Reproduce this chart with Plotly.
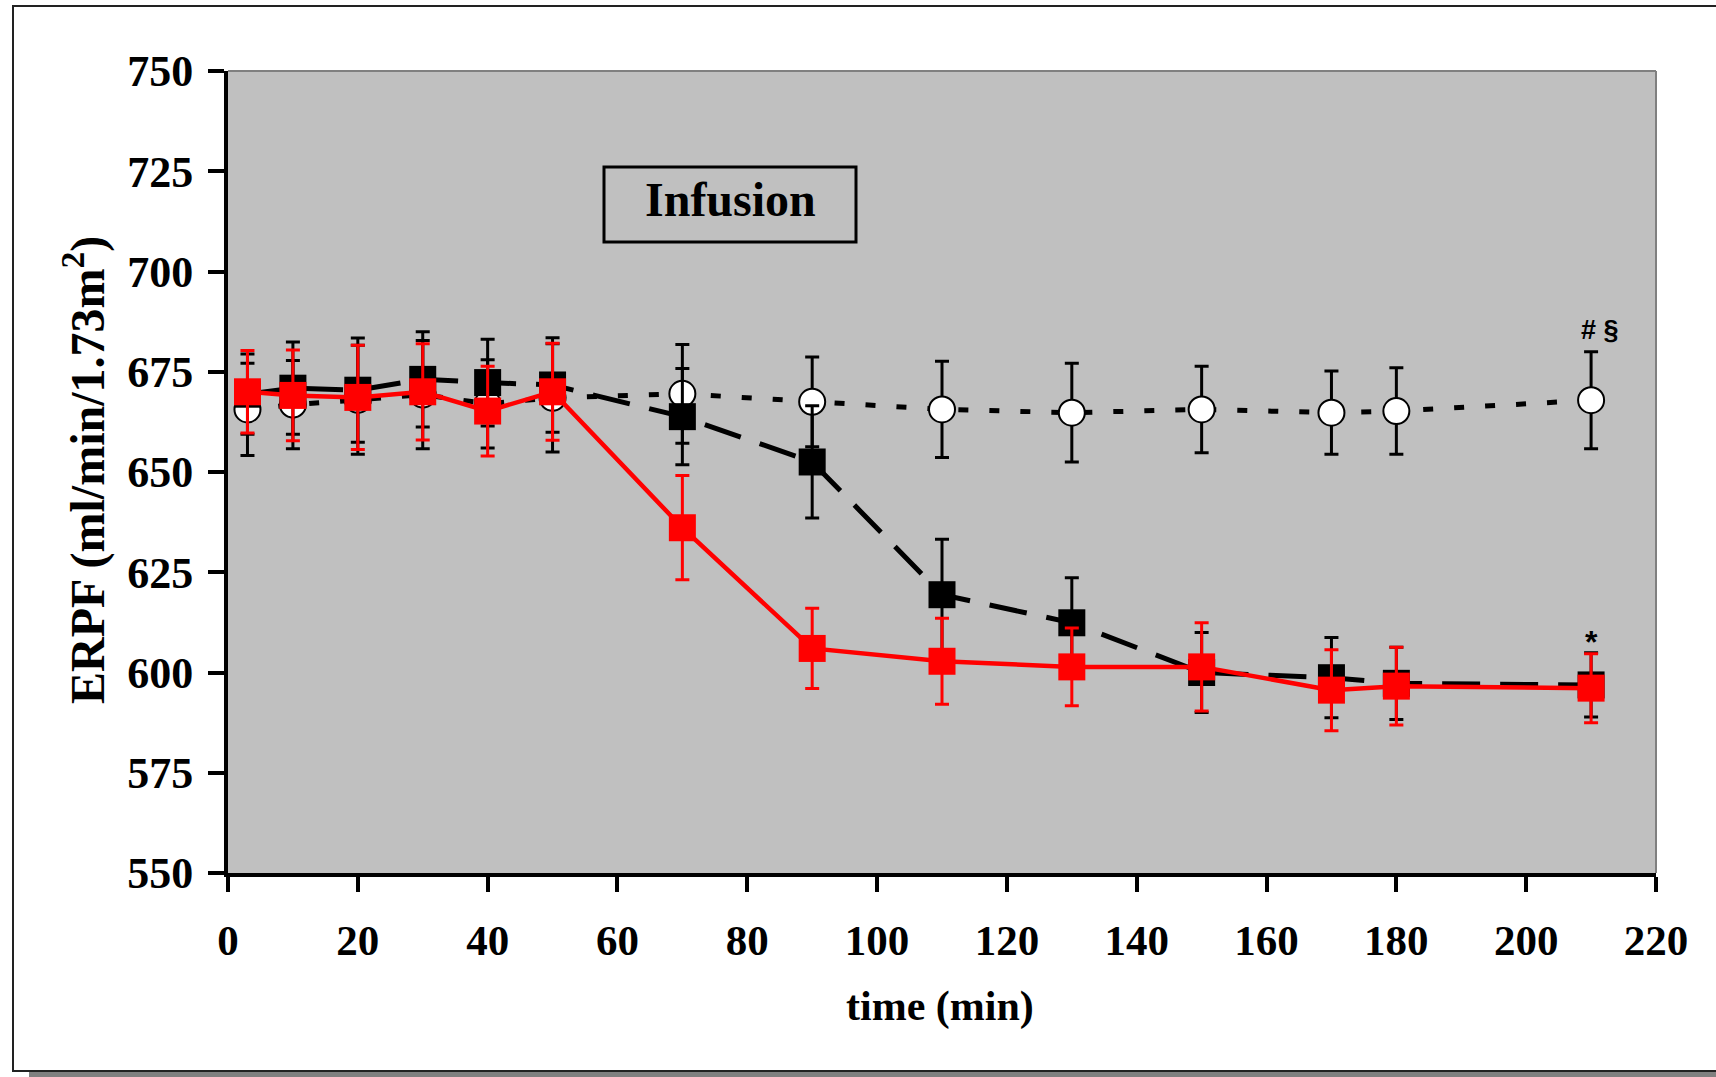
import plotly.graph_objects as go

time_min = [3, 10, 20, 30, 40, 50, 70, 90, 110, 130, 150, 170, 180, 210]

control_mean = [665.6, 666.8, 668.0, 669.3, 667.0, 668.5, 669.5, 667.5, 665.6, 664.8, 665.6, 664.8, 665.2, 667.9]
control_sem = [11.5, 11.0, 13.6, 13.5, 11.0, 13.5, 12.3, 11.2, 12.0, 12.3, 10.8, 10.4, 10.8, 12.1]

black_mean = [669.4, 670.9, 670.4, 673.1, 672.3, 671.7, 663.8, 652.5, 619.4, 612.4, 600.0, 598.7, 597.3, 596.9]
black_sem = [10.0, 11.5, 13.0, 11.9, 10.8, 11.8, 12.0, 14.0, 13.8, 11.2, 10.0, 10.0, 9.0, 8.0]

red_mean = [670.0, 669.1, 668.6, 670.0, 665.2, 670.0, 636.1, 606.0, 602.8, 601.4, 601.4, 595.6, 596.6, 596.1]
red_sem = [10.3, 11.3, 13.0, 12.0, 11.2, 12.1, 13.0, 10.0, 10.7, 9.7, 11.0, 10.1, 9.7, 8.6]

x_ticks = list(range(0, 221, 20))
y_ticks = list(range(550, 751, 25))

SERIF = "Liberation Serif"
SANS = "Liberation Sans"

fig = go.Figure()

fig.add_trace(go.Scatter(
    x=time_min, y=control_mean, mode="lines+markers",
    line=dict(color="black", width=5, dash="10px,21px"),
    marker=dict(symbol="circle", size=26, color="white", line=dict(color="black", width=2)),
    error_y=dict(type="data", array=control_sem, visible=True, color="black", thickness=3, width=7),
    showlegend=False, hoverinfo="skip",
))

fig.add_trace(go.Scatter(
    x=time_min, y=black_mean, mode="lines+markers",
    line=dict(color="black", width=5, dash="38px,20px"),
    marker=dict(symbol="square", size=27, color="black", line=dict(width=0)),
    error_y=dict(type="data", array=black_sem, visible=True, color="black", thickness=3, width=7),
    showlegend=False, hoverinfo="skip",
))

fig.add_trace(go.Scatter(
    x=time_min, y=red_mean, mode="lines+markers",
    line=dict(color="#FF0000", width=4.5),
    marker=dict(symbol="square", size=27, color="#FF0000", line=dict(width=0)),
    error_y=dict(type="data", array=red_sem, visible=True, color="#FF0000", thickness=3, width=7),
    showlegend=False, hoverinfo="skip",
))

PW, PH = 1428.0, 802.0
L, T = 228.0, 71.0


def px_x(px):
    return (px - L) / PW


def px_y(py):
    return (T + PH - py) / PH


shapes = [
    dict(type="rect", xref="paper", yref="paper", x0=px_x(29), x1=px_x(1740), y0=px_y(1078), y1=px_y(1071),
         fillcolor="#808080", line=dict(width=0), layer="below"),
    dict(type="rect", xref="paper", yref="paper", x0=px_x(13), x1=px_x(1740), y0=px_y(1071), y1=px_y(6),
         fillcolor="rgba(0,0,0,0)", line=dict(color="#222222", width=2), layer="below"),
    dict(type="line", xref="paper", yref="paper", x0=0, x1=1, y0=1, y1=1,
         line=dict(color="#808080", width=2), layer="below"),
    dict(type="line", xref="paper", yref="paper", x0=1, x1=1, y0=0, y1=1,
         line=dict(color="#808080", width=2), layer="below"),
    dict(type="rect", xref="paper", yref="paper", x0=px_x(604), x1=px_x(856), y0=px_y(242), y1=px_y(167),
         fillcolor="rgba(0,0,0,0)", line=dict(color="black", width=3), layer="above"),
]

annotations = [
    dict(text="Infusion", xref="paper", yref="paper", x=px_x(730), y=px_y(199), showarrow=False,
         xanchor="center", yanchor="middle", font=dict(family=SERIF, size=48, color="black", weight="bold")),
    dict(text="time (min)", xref="paper", yref="paper", x=px_x(940), y=px_y(1007), showarrow=False,
         xanchor="center", yanchor="middle", font=dict(family=SERIF, size=42, color="black", weight="bold")),
    dict(text="ERPF (ml/min/1.73m<sup>2</sup>)", xref="paper", yref="paper", x=px_x(84), y=px_y(470),
         showarrow=False, textangle=-90, xanchor="center", yanchor="middle",
         font=dict(family=SERIF, size=48, color="black", weight="bold")),
    dict(text="# §", xref="x", yref="y", x=time_min[-1] + 1.4, y=control_mean[-1] + 17.5, showarrow=False,
         xanchor="center", yanchor="middle", font=dict(family=SANS, size=27, color="black", weight="bold")),
    dict(text="*", xref="x", yref="y", x=time_min[-1], y=red_mean[-1] + 11.5, showarrow=False,
         xanchor="center", yanchor="middle", font=dict(family=SANS, size=32, color="black", weight="bold")),
]

fig.update_layout(
    width=1716, height=1077, autosize=False,
    margin=dict(l=228, r=60, t=71, b=204, pad=0),
    paper_bgcolor="white", plot_bgcolor="#C0C0C0",
    shapes=shapes, annotations=annotations, showlegend=False,
)

fig.update_xaxes(
    range=[0, 220], tickmode="array", tickvals=x_ticks, ticktext=[str(v) for v in x_ticks],
    showgrid=False, zeroline=False, showline=True, linecolor="black", linewidth=4,
    ticks="outside", ticklen=15, tickwidth=4, tickcolor="black",
    tickfont=dict(family=SERIF, size=43, color="black", weight="bold"), ticklabelstandoff=11,
)
fig.update_yaxes(
    range=[550, 750], tickmode="array", tickvals=y_ticks, ticktext=[str(v) for v in y_ticks],
    showgrid=False, zeroline=False, showline=True, linecolor="black", linewidth=4,
    ticks="outside", ticklen=16, tickwidth=4, tickcolor="black",
    tickfont=dict(family=SERIF, size=44, color="black", weight="bold"), ticklabelstandoff=6,
)

fig.write_html("out.html")
